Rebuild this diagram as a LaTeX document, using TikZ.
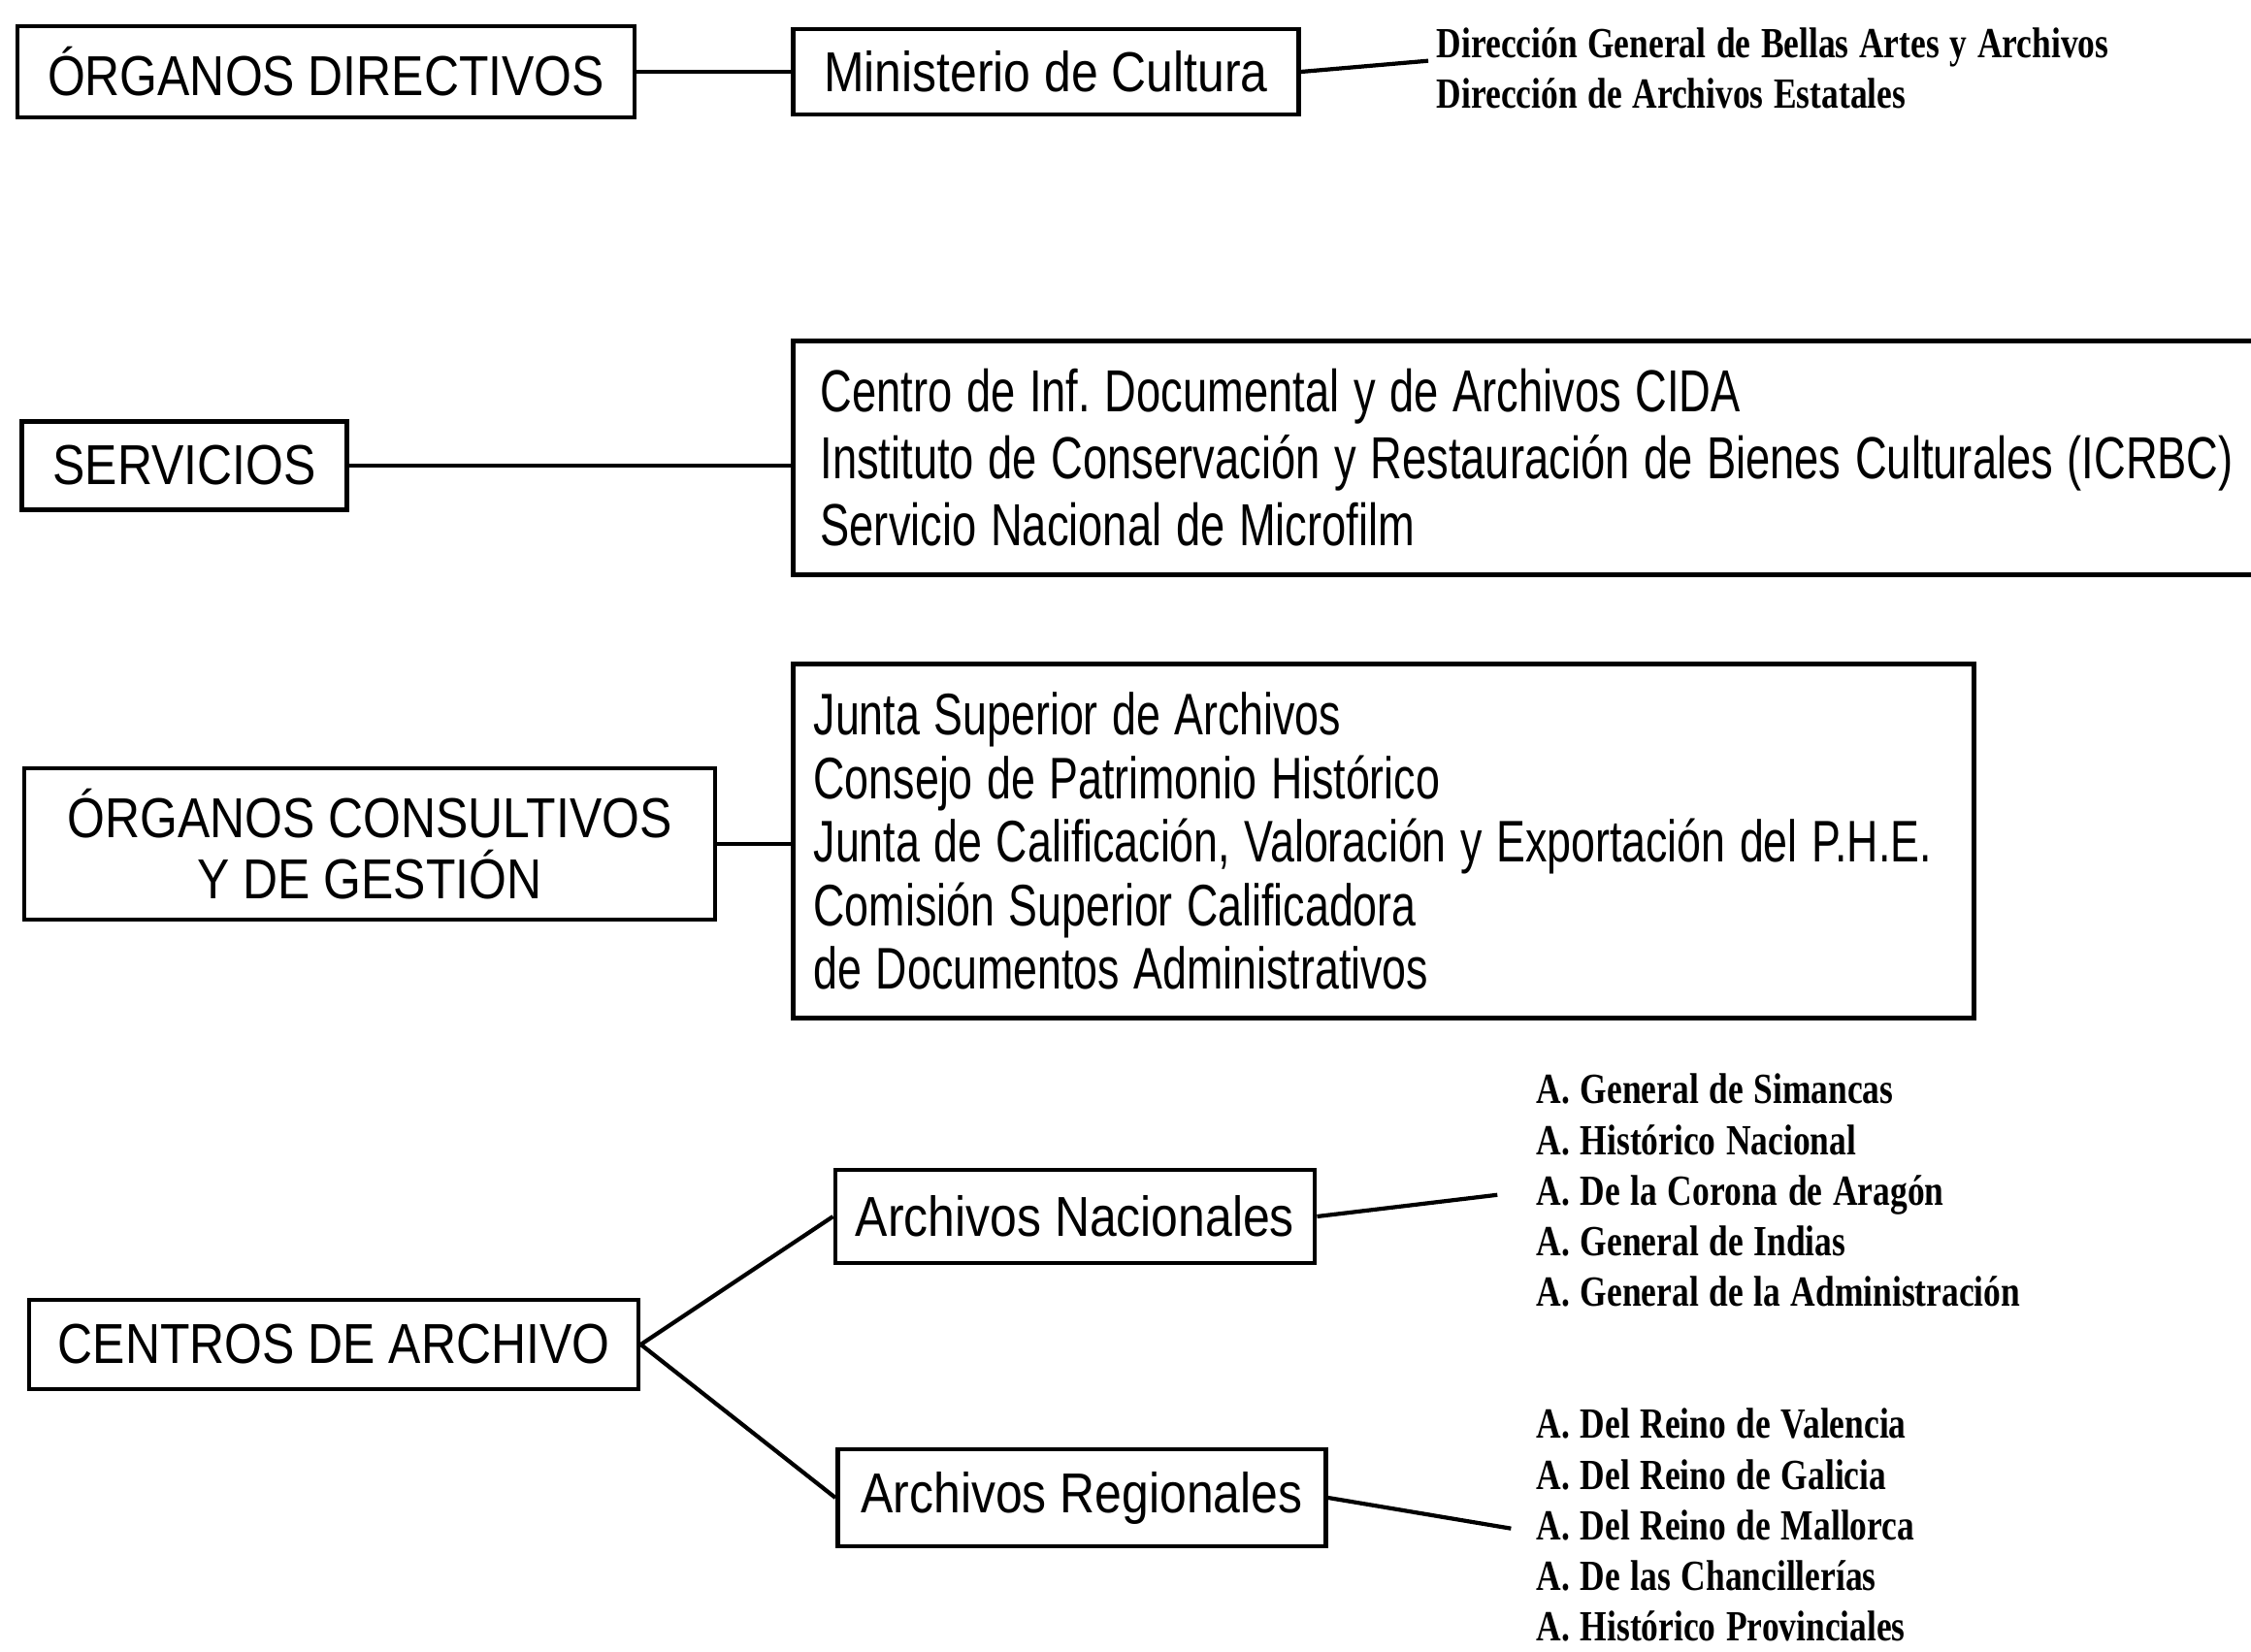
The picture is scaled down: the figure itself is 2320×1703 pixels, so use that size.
\documentclass[tikz,border=0pt]{standalone}
\usepackage{fontspec}
\newfontfamily\boxfont[FakeStretch=0.86]{Liberation Sans}
\newfontfamily\textboxfont[FakeStretch=0.74]{Liberation Sans}
\newfontfamily\listfont[FakeStretch=0.8]{Liberation Serif}
\newcommand{\tightspace}{\frenchspacing\spaceskip=0.24em plus 0.05em\relax}
\tikzset{
  box/.style={shape=rectangle,draw=black,line width=1.3pt,inner sep=0pt,
    font=\boxfont\fontsize{16.5}{18.7}\selectfont},
  listbox/.style={box,inner ysep=0pt,execute at begin node={\raggedright\tightspace}},
  smalllist/.style={inner sep=0pt,align=left,anchor=west,execute at begin node=\tightspace,
    font=\listfont\bfseries\fontsize{12.6}{14.8}\selectfont},
}
\begin{document}
\begin{tikzpicture}[x=0.01cm,y=-0.01cm]
        \useasboundingbox (0,0) rectangle (2320,1703);
        \node[box,minimum width=6.36cm,minimum height=0.94cm] (directivos) at (336,74) {ÓRGANOS DIRECTIVOS};
        \node[box,minimum width=5.21cm,minimum height=0.88cm] (ministerio) at (1078,74) {Ministerio de Cultura};
        \node[smalllist] (direccion) at (1480,70) {Dirección General de Bellas Artes y Archivos\\Dirección de Archivos Estatales};

        \node[box,minimum width=3.35cm,minimum height=0.91cm] (servicios) at (190,480) {SERVICIOS};
        \node[listbox,inner xsep=0.28cm,text width=15.2cm,minimum height=2.41cm,font=\textboxfont\fontsize{17.4}{19.6}\selectfont] (serviciolist) at (1606,472)
          {Centro de Inf. Documental y de Archivos CIDA\\Instituto de Conservación y Restauración de Bienes Culturales (ICRBC)\\Servicio Nacional de Microfilm};

        \node[box,align=center,minimum width=7.12cm,minimum height=1.56cm,font=\boxfont\fontsize{16.5}{18}\selectfont] (consultivos) at (381,870) {ÓRGANOS CONSULTIVOS\\Y DE GESTIÓN};
        \node[listbox,inner xsep=0.21cm,text width=11.74cm,minimum height=3.65cm,font=\textboxfont\fontsize{17.2}{18.6}\selectfont] (consultivolist) at (1426,867)
          {Junta Superior de Archivos\\Consejo de Patrimonio Histórico\\Junta de Calificación, Valoración y Exportación del P.H.E.\\Comisión Superior Calificadora\\de Documentos Administrativos};

        \node[box,minimum width=6.28cm,minimum height=0.92cm] (centros) at (344,1386) {CENTROS DE ARCHIVO};
        \node[box,minimum width=4.94cm,minimum height=0.96cm] (nacionales) at (1108,1254) {Archivos Nacionales};
        \node[box,minimum width=5.03cm,minimum height=1.00cm] (regionales) at (1115,1544) {Archivos Regionales};
        \node[smalllist] (nacionalist) at (1583,1227)
          {A. General de Simancas\\A. Histórico Nacional\\A. De la Corona de Aragón\\A. General de Indias\\A. General de la Administración};
        \node[smalllist] (regionalist) at (1583,1572)
          {A. Del Reino de Valencia\\A. Del Reino de Galicia\\A. Del Reino de Mallorca\\A. De las Chancillerías\\A. Histórico Provinciales};

        \path[-,line width=1.2pt]
        (directivos) edge (ministerio)
        (ministerio.east) edge[shorten >=0.08cm] ([yshift=0.08cm]direccion.west)
        (servicios.east) edge (servicios.east -| serviciolist.west)
        (consultivos.east) edge (consultivos.east -| consultivolist.west)
        (centros.east) edge (nacionales.west)
        (centros.east) edge (regionales.west)
        (nacionales.east) edge[shorten >=0.4cm] (nacionalist.west)
        (regionales.east) edge[shorten >=0.26cm] ([yshift=-0.08cm]regionalist.west)
        ;
\end{tikzpicture}
\end{document}
